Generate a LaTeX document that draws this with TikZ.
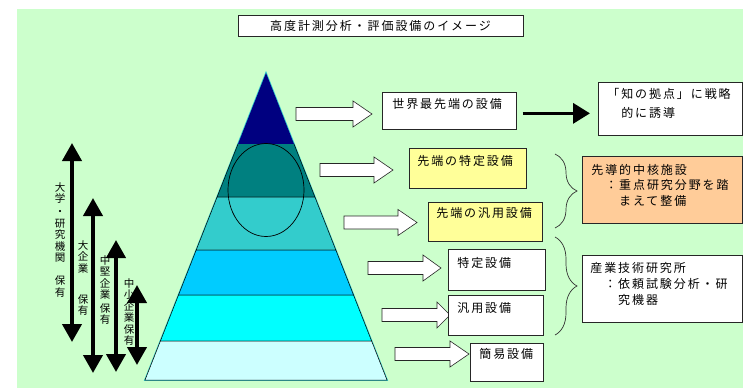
\documentclass[tikz,border=0pt]{standalone}
\usepackage{fontspec}
\setmainfont{Noto Sans CJK JP}[LetterSpace=16]
\newfontfamily\vfont{Noto Sans CJK JP}
\usetikzlibrary{arrows.meta,shapes.geometric,decorations.pathreplacing,calc}
\definecolor{bggreen}{HTML}{CCFFCC}
\definecolor{boxyellow}{HTML}{FFFF99}
\definecolor{boxorange}{HTML}{FFCC99}
\definecolor{lay1}{HTML}{000080}
\definecolor{lay2}{HTML}{008080}
\definecolor{lay3}{HTML}{33CCCC}
\definecolor{lay4}{HTML}{00CCFF}
\definecolor{lay5}{HTML}{00FFFF}
\definecolor{lay6}{HTML}{CCFFFF}
\newcommand\bxt[5]{\parbox[t][#2pt][t]{#1pt}{\leftskip=#3pt\relax\vspace*{#4pt}#5\par}}
\newcommand\blkarrow[4]{\draw[blockarr] (#1,#3-6.5) -- ++(#2-#1-#4,0) -- ++(0,-6.5) -- (#2,#3) -- (#2-#4,#3+13) -- ++(0,-6.5) -- (#1,#3+6.5) -- cycle;}
\begin{document}
\begin{tikzpicture}[x=1pt,y=-1pt,
  box/.style={draw=black!85, line width=0.7pt, inner sep=0pt, anchor=north west,
    font=\fontsize{12}{16}\selectfont},
  blockarr/.style={draw=black!85, fill=white, line width=0.6pt},
  layer/.style={draw=black, line width=0.5pt},
  dblarrow/.style={line width=4pt, {Triangle[length=18pt,width=19pt]}-{Triangle[length=18pt,width=19pt]}},
  bigarrow/.style={line width=3.5pt, -{Triangle[length=17pt,width=20pt]}},
  bracestyle/.style={draw=black!80, line width=0.7pt, decorate, decoration={brace, amplitude=22pt}},
  vtext/.style={anchor=north, inner sep=0pt, align=center, font=\vfont\fontsize{10.5}{11.5}\selectfont}]
\useasboundingbox (0,0) rectangle (743,388);
\fill[white] (0,0) rectangle (743,388);
\fill[bggreen] (17,9) rectangle (743,388);

% title
\node[draw=black!85, line width=0.7pt, minimum width=285pt, minimum height=21pt, inner sep=0pt, fill=white,
  font=\fontsize{12}{14}\selectfont] (title) at (380.5,25.5) {高度計測分析・評価設備のイメージ};

% pyramid
\draw[draw=lay3, line width=1.6pt] (266,73) -- (387,380) -- (145,380) -- cycle;
\fill[lay1] (266,73) -- (294,144) -- (238,144) -- cycle;
\fill[lay2] (238,144) -- (294,144) -- (314.9,197) -- (217.1,197) -- cycle;
\draw[layer] (238,144) -- (217.1,197) -- (314.9,197) -- (294,144);
\filldraw[layer, fill=lay3] (217.1,197) -- (314.9,197) -- (335.8,250) -- (196.2,250) -- cycle;
\filldraw[layer, fill=lay4] (196.2,250) -- (335.8,250) -- (353.5,295) -- (178.5,295) -- cycle;
\filldraw[layer, fill=lay5] (178.5,295) -- (353.5,295) -- (371.6,341) -- (160.4,341) -- cycle;
\filldraw[layer, fill=lay6] (160.4,341) -- (371.6,341) -- (387,380) -- (145,380) -- cycle;
\node[ellipse, draw=black, line width=0.7pt, minimum width=76pt, minimum height=93pt, inner sep=0pt] (ell) at (266,190) {};

% block arrows
\blkarrow{296}{372}{114}{19}
\blkarrow{320}{393}{170}{19}
\blkarrow{344}{417}{222.5}{19}
\blkarrow{368}{441}{268}{18}
\blkarrow{382}{450}{315}{13}
\blkarrow{395}{469}{354}{19}

% boxes
\node[box, fill=white] (b1) at (382,92) {\bxt{134}{37}{10}{6}{世界最先端の設備}};
\node[box, fill=white, font=\fontsize{12}{19}\selectfont] (b2) at (598,82) {\bxt{144}{53}{9}{6}{「知の拠点」に戦略\\　的に誘導}};
\node[box, fill=boxyellow] (b3) at (409,148) {\bxt{117}{40}{8}{7}{先端の特定設備}};
\node[box, fill=boxyellow] (b4) at (428,202) {\bxt{114}{39}{8}{5}{先端の汎用設備}};
\node[box, fill=boxorange, font=\fontsize{12}{15.5}\selectfont] (b5) at (582,156) {\bxt{160}{67}{9}{8}{先導的中核施設\\　：重点研究分野を踏\\　　まえて整備}};
\node[box, fill=white] (b6) at (582,255) {\bxt{160}{67}{8}{7}{産業技術研究所\\　：依頼試験分析・研\\　　究機器}};
\node[box, fill=white] (b7) at (448,249) {\bxt{97}{41}{9}{8}{特定設備}};
\node[box, fill=white] (b8) at (448,295) {\bxt{95}{40}{9}{7}{汎用設備}};
\node[box, fill=white] (b9) at (470,343) {\bxt{73}{38}{9}{5}{簡易設備}};

% black arrow
\draw[bigarrow] ($(b1.east)+(6,2.5)$) -- ($(b1.east -| b2.west)+(-8,2.5)$);

% braces
\coordinate (br1t) at (555,154);
\coordinate (br1b) at (555,228);
\coordinate (br2t) at (555,237);
\coordinate (br2b) at (555,335);
\draw[bracestyle] (br1t) -- (br1b);
\draw[bracestyle] (br2t) -- (br2b);

% left double arrows
\coordinate (a1t) at (72,143);  \coordinate (a1b) at (72,342);
\coordinate (a2t) at (93,198);  \coordinate (a2b) at (93,373);
\coordinate (a3t) at (116,240); \coordinate (a3b) at (116,372);
\coordinate (a4t) at (137,285); \coordinate (a4b) at (137,365);
\draw[dblarrow] (a1t) -- (a1b);
\draw[dblarrow] (a2t) -- (a2b);
\draw[dblarrow] (a3t) -- (a3b);
\draw[dblarrow] (a4t) -- (a4b);

% vertical texts
\node[vtext] (t1) at (60,182) {大\\学\\[1.5pt]・\\研\\究\\機\\関\\[11.5pt]保\\有};
\node[vtext] (t2) at (83,240) {大\\企\\業\\[19.5pt]保\\有};
\node[vtext] (t3) at (105,255) {中\\堅\\企\\業\\[2pt]保\\有};
\node[vtext] (t4) at (129,278) {中\\小\\企\\業\\保\\有};
\end{tikzpicture}
\end{document}
